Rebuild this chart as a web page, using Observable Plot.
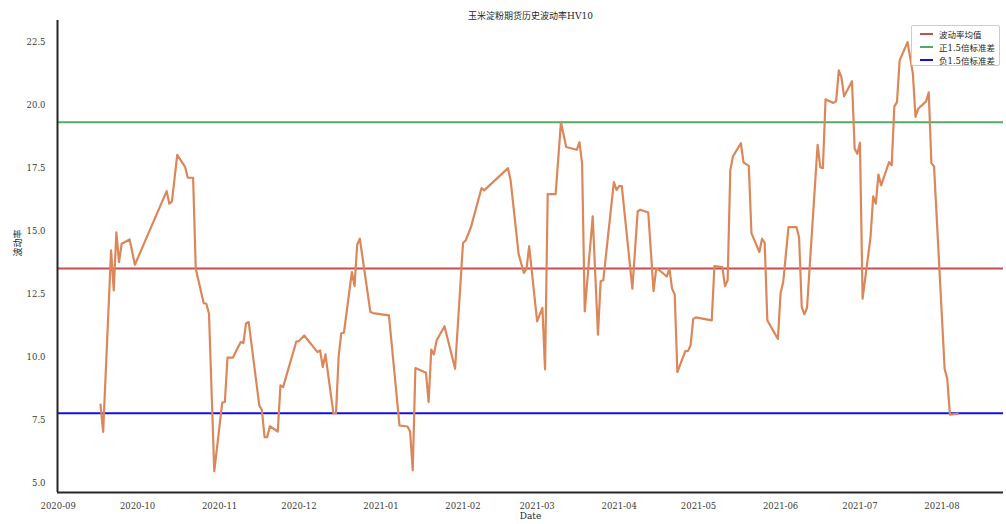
<!DOCTYPE html>
<html>
<head>
<meta charset="utf-8">
<script src="https://cdn.jsdelivr.net/npm/d3@7"></script>
<script src="https://cdn.jsdelivr.net/npm/@observablehq/plot@0.6"></script>
<style>
  html, body { margin: 0; padding: 0; background: #fff; }
  #wrap { position: relative; width: 1006px; height: 524px; }
  #legend {
    position: absolute; left: 911px; top: 25px; width: 89px; height: 41px;
    border: 1px solid #cccccc; border-radius: 2px; background: rgba(255,255,255,0.9);
    font-family: "DejaVu Serif", "Noto Sans CJK SC", serif; font-size: 8.5px; color: #262626;
    box-sizing: border-box; padding-top: 1px;
  }
  .row { display: flex; align-items: center; height: 13px; }
  .sw { display: inline-block; width: 13px; height: 2px; margin-left: 8px; margin-right: 6px; }
</style>
</head>
<body>
<div id="wrap"><div id="legend"></div></div>
<script>
const titleText = "玉米淀粉期货历史波动率HV10";
const xLabel = "Date";
const yLabel = "波动率";

const dates = [
  "2020-09-17","2020-09-18","2020-09-21","2020-09-22","2020-09-23","2020-09-24","2020-09-25","2020-09-28","2020-09-30",
  "2020-10-12","2020-10-13","2020-10-14","2020-10-16","2020-10-19","2020-10-20","2020-10-22","2020-10-23","2020-10-26","2020-10-27","2020-10-28","2020-10-30",
  "2020-11-02","2020-11-03","2020-11-04","2020-11-06","2020-11-09","2020-11-10","2020-11-11","2020-11-12","2020-11-16","2020-11-17","2020-11-18","2020-11-19","2020-11-20","2020-11-23","2020-11-24","2020-11-25","2020-11-30",
  "2020-12-01","2020-12-03","2020-12-08","2020-12-09","2020-12-10","2020-12-11","2020-12-14","2020-12-15","2020-12-16","2020-12-17","2020-12-18","2020-12-21","2020-12-22","2020-12-23","2020-12-24","2020-12-28","2020-12-29",
  "2021-01-04","2021-01-08","2021-01-11","2021-01-12","2021-01-13","2021-01-14","2021-01-18","2021-01-19","2021-01-20","2021-01-21","2021-01-22","2021-01-25","2021-01-29",
  "2021-02-01","2021-02-02","2021-02-04","2021-02-08","2021-02-09","2021-02-18","2021-02-19","2021-02-22","2021-02-24","2021-02-25","2021-02-26",
  "2021-03-01","2021-03-03","2021-03-04","2021-03-05","2021-03-08","2021-03-10","2021-03-12","2021-03-16","2021-03-17","2021-03-18","2021-03-19","2021-03-22","2021-03-24","2021-03-25","2021-03-26","2021-03-30","2021-03-31",
  "2021-04-01","2021-04-02","2021-04-06","2021-04-08","2021-04-09","2021-04-12","2021-04-14","2021-04-15","2021-04-16","2021-04-19","2021-04-20","2021-04-21","2021-04-22","2021-04-23","2021-04-26","2021-04-27","2021-04-28","2021-04-29","2021-04-30",
  "2021-05-06","2021-05-07","2021-05-10","2021-05-11","2021-05-12","2021-05-13","2021-05-14","2021-05-17","2021-05-18","2021-05-20","2021-05-21","2021-05-24","2021-05-25","2021-05-26","2021-05-27","2021-05-31",
  "2021-06-01","2021-06-02","2021-06-04","2021-06-07","2021-06-08","2021-06-09","2021-06-10","2021-06-11","2021-06-15","2021-06-16","2021-06-17","2021-06-18","2021-06-21","2021-06-22","2021-06-23","2021-06-24","2021-06-25","2021-06-28","2021-06-29","2021-06-30",
  "2021-07-01","2021-07-02","2021-07-05","2021-07-06","2021-07-07","2021-07-08","2021-07-09","2021-07-12","2021-07-13","2021-07-14","2021-07-15","2021-07-16","2021-07-19","2021-07-21","2021-07-22","2021-07-23","2021-07-26","2021-07-27","2021-07-28","2021-07-29",
  "2021-08-02","2021-08-03","2021-08-04","2021-08-07"
];

const hv10 = [
  8.13,7.04,14.25,12.66,14.96,13.78,14.51,14.68,13.68,
  16.6,16.1,16.19,18.04,17.55,17.13,17.13,13.52,12.15,12.13,11.73,5.48,
  8.21,8.23,9.99,9.99,10.61,10.57,11.36,11.4,8.1,7.9,6.84,6.84,7.27,7.06,8.89,8.82,10.63,
  10.65,10.87,10.21,10.28,9.62,10.12,7.79,7.79,10.04,10.96,10.98,13.39,12.83,14.47,14.71,11.8,11.76,
  11.67,7.3,7.26,7.06,5.52,9.58,9.39,8.23,10.31,10.12,10.67,11.24,9.55,
  14.54,14.64,15.17,16.72,16.63,17.51,17.02,14.11,13.35,13.52,14.42,
  11.43,11.97,9.52,16.48,16.48,19.33,18.35,18.24,18.54,17.69,11.83,15.6,10.9,13.02,13.06,16.96,16.65,
  16.8,16.8,12.73,15.79,15.86,15.75,12.63,13.52,13.48,13.21,13.52,12.73,12.5,9.42,10.25,10.25,10.48,11.53,11.59,
  11.47,13.62,13.58,12.83,13.06,17.42,17.98,18.5,17.74,17.6,14.93,14.18,14.71,14.54,11.47,10.73,
  12.55,12.99,15.17,15.17,14.77,12.0,11.71,11.97,18.44,17.55,17.51,20.24,20.1,20.17,21.39,21.12,20.36,20.96,18.28,18.08,
  18.52,12.33,14.77,16.39,16.1,17.26,16.83,17.75,17.62,19.96,20.13,21.79,22.51,21.26,19.54,19.87,20.16,20.52,17.71,17.58,
  9.55,9.15,7.73,7.76
];

const meanValue = 13.53;
const upperValue = 19.33;
const lowerValue = 7.78;

const legendLabels = ["波动率均值", "正1.5倍标准差", "负1.5倍标准差"];
const yTicks = [5, 7.5, 10, 12.5, 15, 17.5, 20, 22.5];
const xTicks = ["2020-09-01","2020-10-01","2020-11-01","2020-12-01","2021-01-01","2021-02-01","2021-03-01","2021-04-01","2021-05-01","2021-06-01","2021-07-01","2021-08-01"];

const colors = { line: "#db875a", mean: "#c44e52", upper: "#55a868", lower: "#1010e8" };

const data = dates.map((d, i) => ({ date: new Date(d + "T00:00:00Z"), value: hv10[i] }));
const xDomain = [new Date("2020-08-31T18:00:00Z"), new Date("2021-08-24T06:00:00Z")];
const yDomain = [4.64, 23.37];
const font = "'DejaVu Serif', 'Noto Sans CJK SC', serif";

const chart = Plot.plot({
  width: 1006,
  height: 524,
  marginLeft: 57,
  marginRight: 3,
  marginTop: 20,
  marginBottom: 32,
  style: { fontFamily: font, fontSize: "8.5px", color: "#3a3a3a", background: "#fff" },
  x: { type: "utc", domain: xDomain },
  y: { domain: yDomain },
  marks: [
    Plot.axisX({ ticks: xTicks.map(d => new Date(d + "T00:00:00Z")), tickFormat: d3.utcFormat("%Y-%m"), tickSize: 0, tickPadding: 10, label: null, fill: "#3a3a3a" }),
    Plot.axisY({ ticks: yTicks, tickFormat: d3.format(".1f"), tickSize: 0, tickPadding: 12, label: null, fill: "#3a3a3a" }),
    Plot.ruleY([meanValue], { stroke: colors.mean, strokeWidth: 2 }),
    Plot.ruleY([upperValue], { stroke: colors.upper, strokeWidth: 2 }),
    Plot.ruleY([lowerValue], { stroke: colors.lower, strokeWidth: 2 }),
    Plot.line(data, { x: "date", y: "value", stroke: colors.line, strokeWidth: 2.2 }),
    Plot.ruleX([xDomain[0]], { stroke: "#262626", strokeWidth: 2 }),
    Plot.ruleY([yDomain[0]], { stroke: "#262626", strokeWidth: 2 }),
    Plot.text([titleText], { frameAnchor: "top", dy: -8, fontSize: 9, fill: "#262626" }),
    Plot.text([xLabel], { frameAnchor: "bottom", dy: 26, fontSize: 9, fill: "#262626" }),
    Plot.text([yLabel], { frameAnchor: "left", dx: -39, rotate: -90, fontSize: 9, fill: "#262626" })
  ]
});

const wrap = document.getElementById("wrap");
wrap.insertBefore(chart, wrap.firstChild);

const legend = document.getElementById("legend");
const legendColors = [colors.mean, colors.upper, colors.lower];
legendLabels.forEach((lab, i) => {
  const row = document.createElement("div");
  row.className = "row";
  const sw = document.createElement("span");
  sw.className = "sw";
  sw.style.background = legendColors[i];
  const t = document.createElement("span");
  t.textContent = lab;
  row.appendChild(sw);
  row.appendChild(t);
  legend.appendChild(row);
});
</script>
</body>
</html>
